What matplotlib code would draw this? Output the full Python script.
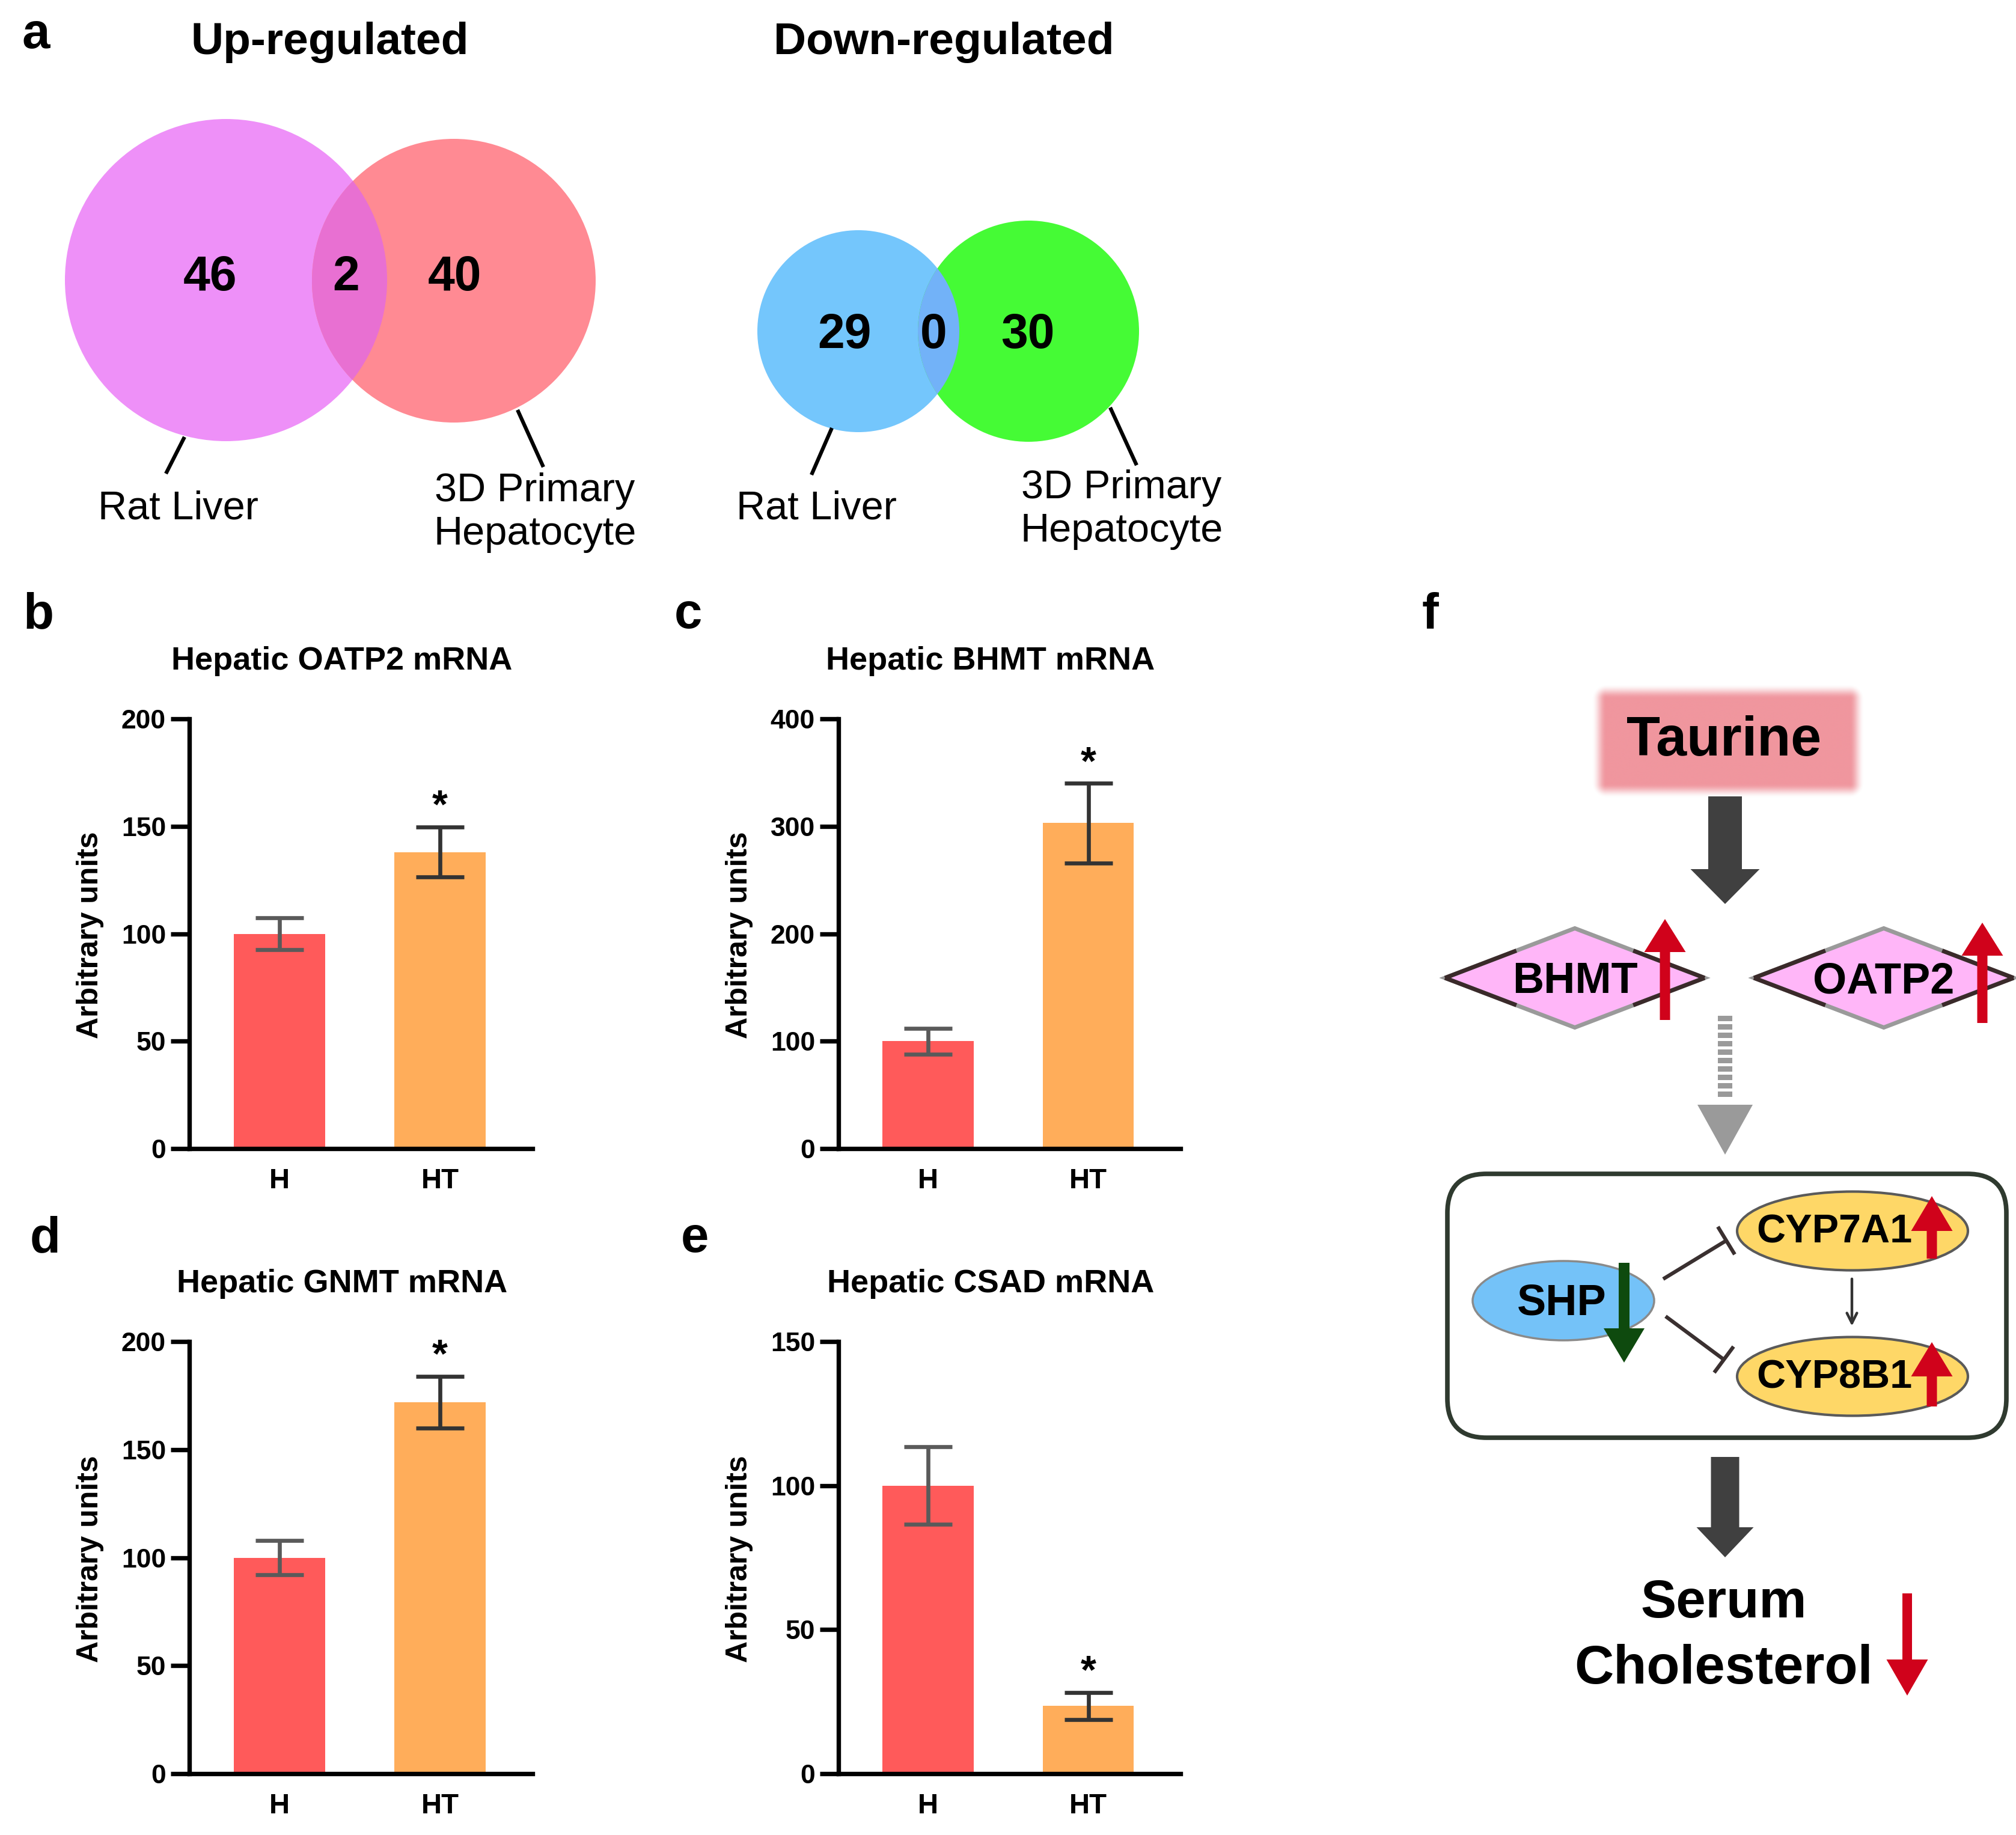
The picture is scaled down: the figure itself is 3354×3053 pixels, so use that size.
import matplotlib
matplotlib.use('Agg')
import matplotlib.pyplot as plt
from matplotlib.patches import Circle, Ellipse, Polygon, FancyBboxPatch, Rectangle
from matplotlib.colors import to_rgb
import numpy as np

plt.rcParams['font.family'] = ['Liberation Sans', 'DejaVu Sans']

W, H = 3355, 3053
DPI = 100

# ---------------- data ----------------
venn_titles = ['Up-regulated', 'Down-regulated']
up_counts = [46, 2, 40]        # liver only, both, hepatocyte only
down_counts = [29, 0, 30]
set_labels = ['Rat Liver', '3D Primary\nHepatocyte']

groups = ['H', 'HT']
panel_titles = ['Hepatic OATP2 mRNA', 'Hepatic BHMT mRNA',
                'Hepatic GNMT mRNA', 'Hepatic CSAD mRNA']
oatp2_mean = [100, 138]
oatp2_err = [7.5, 11.7]
bhmt_mean = [100, 303]
bhmt_err = [12, 37]
gnmt_mean = [100, 172]
gnmt_err = [8, 12]
csad_mean = [100, 23.5]
csad_err = [13.5, 4.7]
y_max = [200, 400, 200, 150]
y_ticks = [[0, 50, 100, 150, 200], [0, 100, 200, 300, 400],
           [0, 50, 100, 150, 200], [0, 50, 100, 150]]
signif = ['*', '*', '*', '*']

bar_colors = ['#FF5A5A', '#FFAD5A']
err_colors = ['#5A5A5A', '#333333']

# ---------------- figure ----------------
fig = plt.figure(figsize=(W / DPI, H / DPI), dpi=DPI)
ov = fig.add_axes([0, 0, 1, 1])
ov.axis('off')
ov.patch.set_visible(False)

def txt(x, y, s, size, bold=True, **kw):
    ov.text(x, y, s, fontsize=size, fontweight='bold' if bold else 'normal',
            ha=kw.pop('ha', 'center'), va=kw.pop('va', 'center'), **kw)

# panel letters
for lab, (x, y) in zip('abcdef', [(60, 58), (64, 1023), (1145, 1023),
                                  (75, 2061), (1156, 2061), (2380, 1023)]):
    txt(x, y, lab, 60)

# ---------------- panel a: venn ----------------
def venn(cA, rA, cB, rB, colA, colB, colAB):
    pA = Circle(cA, rA, facecolor=colA, lw=0)
    ov.add_patch(pA)
    pB = Circle(cB, rB, facecolor=colB, lw=0)
    ov.add_patch(pB)
    pAB = Circle(cA, rA, facecolor=colAB, lw=0)
    ov.add_patch(pAB)
    pAB.set_clip_path(pB)

venn((376, 466), 268, (755, 467), 236, '#EE90F8', '#FF8A93', '#E870D2')
venn((1428, 551), 168, (1711, 551), 184, '#74C6FC', '#45FB35', '#72B2F8')

txt(549, 70, venn_titles[0], 54)
txt(1570, 70, venn_titles[1], 54)

for (x, y), n in zip([(350, 462), (576, 462), (756, 462)], up_counts):
    txt(x, y, str(n), 58)
for (x, y), n in zip([(1405, 558), (1553, 558), (1710, 558)], down_counts):
    txt(x, y, str(n), 58)

for (x0, y0, x1, y1) in [(307, 727, 276, 788), (861, 682, 904, 777),
                         (1384, 712, 1350, 790), (1847, 678, 1891, 774)]:
    ov.plot([x0, x1], [y0, y1], color='black', lw=4.5, solid_capstyle='butt')

txt(296, 846, set_labels[0], 48, bold=False)
txt(890, 853, set_labels[1], 48, bold=False, linespacing=1.2)
txt(1358, 846, set_labels[0], 48, bold=False)
txt(1866, 848, set_labels[1], 48, bold=False, linespacing=1.2)

# ---------------- panels b-e: bars ----------------
rects = [(315, 1196, 886, 1911), (1395, 1196, 1964, 1911),
         (315, 2232, 886, 2951), (1395, 2232, 1964, 2951)]
means_all = [oatp2_mean, bhmt_mean, gnmt_mean, csad_mean]
errs_all = [oatp2_err, bhmt_err, gnmt_err, csad_err]
title_pos = [(569, 1100), (1648, 1100), (569, 2136), (1648, 2136)]
ylab_pos = [(150, 1556), (1230, 1556), (150, 2594), (1230, 2594)]

for i in range(4):
    l, t, r, b = rects[i]
    ax = fig.add_axes([l / W, 1 - b / H, (r - l) / W, (b - t) / H])
    ax.patch.set_alpha(0)
    x = np.arange(len(groups))
    m = means_all[i]
    e = errs_all[i]
    ax.bar(x, m, width=0.57, color=bar_colors, zorder=2)
    for xi, mi, ei, c in zip(x, m, e, err_colors):
        ax.errorbar(xi, mi, yerr=ei, fmt='none', ecolor=c, elinewidth=4.8,
                    capsize=29, capthick=4.8, zorder=3)
    ax.set_xlim(-0.56, 1.576)
    ax.set_ylim(0, y_max[i])
    ax.set_yticks(y_ticks[i])
    ax.set_xticks(x)
    ax.set_xticklabels(groups)
    for s in ['top', 'right']:
        ax.spines[s].set_visible(False)
    for s in ['left', 'bottom']:
        ax.spines[s].set_linewidth(5.3)
        ax.spines[s].set_capstyle('projecting')
    ax.tick_params(axis='y', length=22, width=5.3, pad=6, labelsize=32)
    ax.tick_params(axis='x', length=0, pad=23, labelsize=34)
    for lab in ax.get_xticklabels() + ax.get_yticklabels():
        lab.set_fontweight('bold')
    ax.annotate(signif[i], (1, m[1] + e[1]), xytext=(0, 11), textcoords='offset points',
                ha='center', va='baseline', fontsize=48, fontweight='bold')
    txt(title_pos[i][0], title_pos[i][1], panel_titles[i], 39)
    txt(ylab_pos[i][0], ylab_pos[i][1], 'Arbitrary units', 36, rotation=90)

# ---------------- panel f: diagram ----------------
def block_arrow(x, y_tail, y_tip, shaft_w, head_w, head_len, color, z=5):
    d = np.sign(y_tip - y_tail)
    yb = y_tip - d * head_len
    pts = [(x - shaft_w / 2, y_tail), (x + shaft_w / 2, y_tail), (x + shaft_w / 2, yb),
           (x + head_w / 2, yb), (x, y_tip), (x - head_w / 2, yb), (x - shaft_w / 2, yb)]
    ov.add_patch(Polygon(pts, closed=True, facecolor=color, edgecolor='none', zorder=z))

# Taurine box with soft (blurred) edge
cx0, cx1, cy0, cy1, blur = 2672, 3078, 1162, 1304, 24
gx = np.arange(cx0 - blur, cx1 + blur + 1)
gy = np.arange(cy0 - blur, cy1 + blur + 1)
XX, YY = np.meshgrid(gx, gy)
ddx = np.maximum(np.maximum(cx0 - XX, XX - cx1), 0)
ddy = np.maximum(np.maximum(cy0 - YY, YY - cy1), 0)
dist = np.hypot(ddx, ddy)
a = np.clip(1 - dist / blur, 0, 1)
a = a * a * (3 - 2 * a)
img = np.zeros(a.shape + (4,))
img[..., :3] = to_rgb('#F0969E')
img[..., 3] = a
ov.imshow(img, extent=(gx[0], gx[-1], gy[-1], gy[0]), aspect='auto',
          interpolation='bilinear', zorder=2)
txt(2868, 1233, 'Taurine', 66, zorder=6)

block_arrow(2870, 1325, 1504, 56, 115, 58, '#404040')

# diamonds
for cx, lab in [(2620, 'BHMT'), (3134, 'OATP2')]:
    cy, w, h = 1627, 432, 165
    L, T, R, B = (cx - w / 2, cy), (cx, cy - h / 2), (cx + w / 2, cy), (cx, cy + h / 2)
    ov.add_patch(Polygon([L, T, R, B], closed=True, facecolor='#FFB6F8', edgecolor='#9A9A9A',
                         lw=5, zorder=3, joinstyle='miter'))
    for tip, other in [(L, T), (L, B), (R, T), (R, B)]:
        ov.plot([tip[0], tip[0] + 0.55 * (other[0] - tip[0])],
                [tip[1], tip[1] + 0.55 * (other[1] - tip[1])],
                color='#3A2A2A', lw=5, zorder=3.5, solid_capstyle='butt')
    txt(cx, cy + 6, lab, 52, zorder=6)

block_arrow(2770, 1697, 1529, 17, 69, 55, '#D0021B', z=7)
block_arrow(3298, 1702, 1535, 17, 69, 55, '#D0021B', z=7)

# gray dashed arrow
for ys in np.arange(1690, 1830, 14):
    ov.add_patch(Rectangle((2858, ys), 24, 9, facecolor='#9A9A9A', edgecolor='none', zorder=4))
ov.add_patch(Polygon([(2870 - 46, 1838), (2870 + 46, 1838), (2870, 1921)], closed=True,
                     facecolor='#9A9A9A', edgecolor='none', zorder=4))

# rounded box
ov.add_patch(FancyBboxPatch((2408, 1953), 930, 439, boxstyle='round,pad=0,rounding_size=65',
                            facecolor='white', edgecolor='#2F3A2F', lw=5.5, zorder=2))

# ellipses
ov.add_patch(Ellipse((2601, 2164), 302, 132, facecolor='#74C2F8', edgecolor='#8A8A8A', lw=2.5, zorder=3))
txt(2598, 2168, 'SHP', 52, zorder=6)
for cy, lab in [(2048, 'CYP7A1'), (2290, 'CYP8B1')]:
    ov.add_patch(Ellipse((3082, cy), 384, 131, facecolor='#FED767', edgecolor='#5A5A5A',
                         lw=3, zorder=3))
    txt(3052, cy + 2, lab, 48, zorder=6)

block_arrow(2702, 2101, 2267, 18, 68, 57, '#0E4A0E', z=7)
block_arrow(3214, 2094, 1990, 17, 69, 58, '#D0021B', z=7)
block_arrow(3214, 2340, 2233, 17, 69, 57, '#D0021B', z=7)

# small arrow CYP7A1 -> CYP8B1
ov.annotate('', xy=(3081, 2209), xytext=(3081, 2125),
            arrowprops=dict(arrowstyle='->,head_length=1.2,head_width=0.6', color='#333333', lw=3.2),
            zorder=6)

# inhibition lines
for (x0, y0, x1, y1) in [(2767, 2128, 2872, 2064), (2771, 2190, 2868, 2262)]:
    ov.plot([x0, x1], [y0, y1], color='#3A3030', lw=4.5, zorder=6, solid_capstyle='butt')
    dx, dy = x1 - x0, y1 - y0
    n = np.hypot(dx, dy)
    px, py = -dy / n * 27, dx / n * 27
    ov.plot([x1 - px, x1 + px], [y1 - py, y1 + py], color='#3A3030', lw=4.5, zorder=6,
            solid_capstyle='butt')

block_arrow(2870, 2424, 2591, 47, 95, 50, '#404040')

txt(2868, 2668, 'Serum', 64)
txt(2868, 2778, 'Cholesterol', 65)
block_arrow(3173, 2651, 2821, 16, 69, 60, '#D0021B', z=7)

ov.set_xlim(0, W)
ov.set_ylim(H, 0)
fig.savefig('out.png', dpi=DPI)
